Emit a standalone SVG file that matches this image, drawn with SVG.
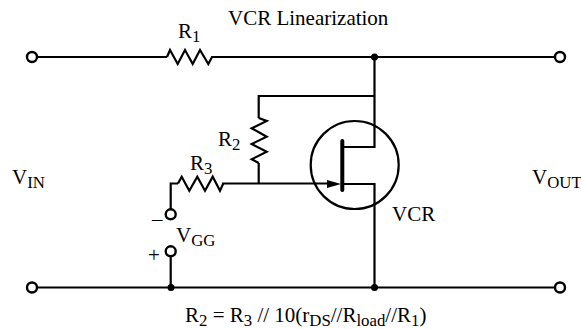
<svg xmlns="http://www.w3.org/2000/svg" width="581" height="329" viewBox="0 0 581 329">
<style>
.w{fill:none;stroke:#000;stroke-width:2.2;stroke-linejoin:miter}
.t{fill:#fff;stroke:#000;stroke-width:2.4}
.d{fill:#000;stroke:none}
text{font-family:"Liberation Serif","Times New Roman",serif;font-size:21px;fill:#000}
.b{font-size:16.800px}
</style>
<rect width="581" height="329" fill="#fff"/>
<g id="connectors">
<path class="w" d="M32 57H167"/>
<path class="w" d="M218 57H560"/>
<path class="w" d="M374.500 57V147H343"/>
<path class="w" d="M374.500 96H258.700V118"/>
<path class="w" d="M258.700 163V184"/>
<path class="w" d="M222 183.500H330"/>
<path class="w" d="M343 184H374.500V287.500"/>
<path class="w" d="M170.700 209V183.500H178"/>
<path class="w" d="M170.700 257V287.500"/>
<path class="w" d="M32 287.500H560"/>
</g>
<g id="R1"><path class="w" d="M167 57L170 50L177.700 64L185 50L192.700 64L200 50L208.300 64L212 57H218"/><text x="178" y="38">R<tspan class="b" dy="4">1</tspan></text></g>
<g id="R2"><path class="w" d="M258.700 118L266.700 121L251.700 128.300L266.700 136.700L251.700 144L266.700 151.700L251.700 159.300L258.700 163"/><text x="218" y="146">R<tspan class="b" dy="4">2</tspan></text></g>
<g id="R3"><path class="w" d="M178 183.500L181.700 176.700L189.300 190.700L197.300 176.700L205 190.700L212.700 176.700L220 190.700L223.300 183.500"/><text x="190" y="170">R<tspan class="b" dy="4">3</tspan></text></g>
<g id="VCR">
<circle cx="354.700" cy="165" r="44" fill="none" stroke="#000" stroke-width="2.200"/>
<path d="M342.300 141V190" fill="none" stroke="#000" stroke-width="4" stroke-linecap="round"/>
<path class="d" d="M341 184L327 180V188Z"/>
<text x="392" y="221">VCR</text>
</g>
<g id="vin-plus"><circle class="t" cx="32" cy="57" r="5"/></g>
<g id="vin-minus"><circle class="t" cx="32" cy="287.500" r="5"/></g>
<g id="vout-plus"><circle class="t" cx="560" cy="57" r="5"/></g>
<g id="vout-minus"><circle class="t" cx="560" cy="287.500" r="5"/></g>
<g id="vgg-minus"><circle class="t" cx="170.700" cy="214.300" r="5"/></g>
<g id="vgg-plus"><circle class="t" cx="170.700" cy="251.300" r="5"/></g>
<g id="junction-top"><circle class="d" cx="374.500" cy="57" r="3.500"/></g>
<g id="junction-bottom-right"><circle class="d" cx="374.500" cy="287.500" r="3.500"/></g>
<g id="junction-bottom-left"><circle class="d" cx="171" cy="287.500" r="3.500"/></g>
<g id="labels">
<text x="228" y="25">VCR Linearization</text>
<text x="12" y="184">V<tspan class="b" dy="4">IN</tspan></text>
<text x="532" y="184">V<tspan class="b" dy="4">OUT</tspan></text>
<text x="152" y="226">–</text>
<text x="148" y="262">+</text>
<text x="176" y="242">V<tspan class="b" dy="4">GG</tspan></text>
<text x="185" y="322">R<tspan class="b" dy="4">2</tspan><tspan dy="-4"> = R</tspan><tspan class="b" dy="4">3</tspan><tspan dy="-4"> // 10(r</tspan><tspan class="b" dy="4">DS</tspan><tspan dy="-4">//R</tspan><tspan class="b" dy="4">load</tspan><tspan dy="-4">//R</tspan><tspan class="b" dy="4">1</tspan><tspan dy="-4">)</tspan></text>
</g>
</svg>
